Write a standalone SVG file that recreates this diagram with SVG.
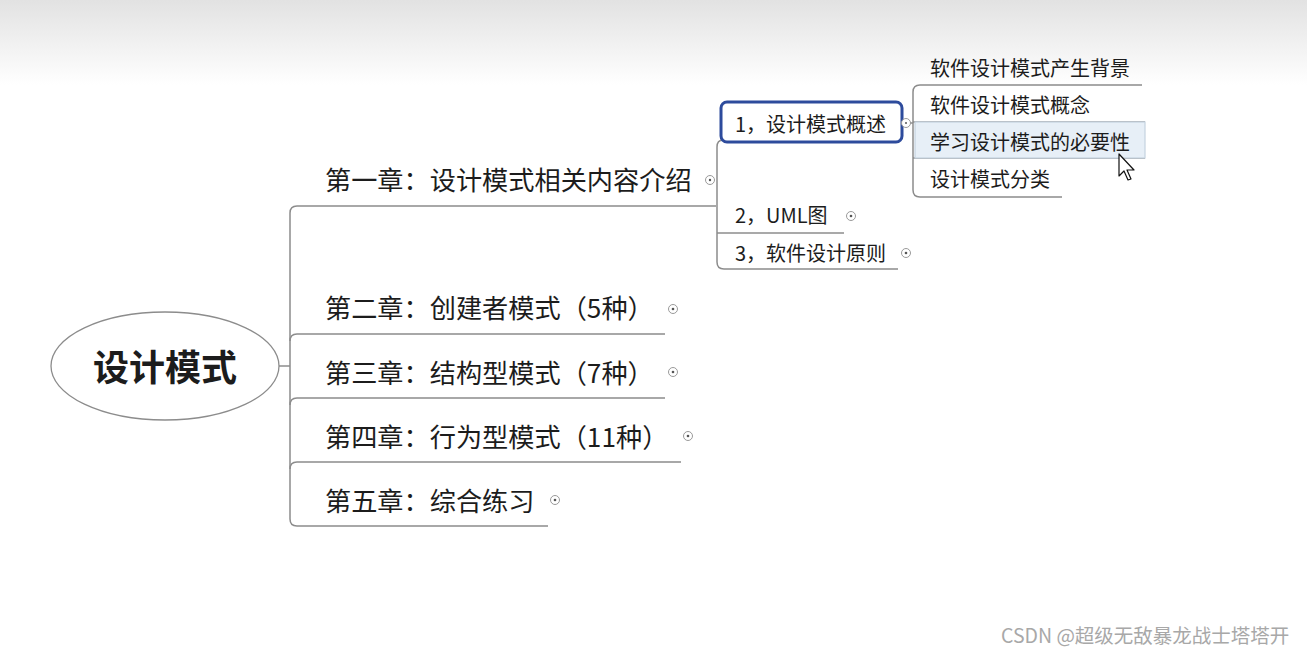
<svg xmlns="http://www.w3.org/2000/svg" width="1307" height="655" viewBox="0 0 1307 655">
<defs>
<linearGradient id="topfade" x1="0" y1="0" x2="0" y2="1">
<stop offset="0" stop-color="#e2e2e2"/>
<stop offset="1" stop-color="#ffffff"/>
</linearGradient>
<style>
.t{font-family:"Noto Sans CJK SC","Microsoft YaHei",sans-serif;fill:#1c1c1c}
.ch{font-size:26.2px}
.sub{font-size:20px}
.root{font-size:36px;font-weight:bold}
.ln{fill:none;stroke:#8c8c8c;stroke-width:1.5}
.ic{fill:#fff;stroke:#9a9a9a;stroke-width:1}
.dot{fill:#555}
.wm{font-family:"Noto Sans CJK SC",sans-serif;font-size:19.5px;fill:#a8a8a8}
</style>
</defs>
<rect x="0" y="0" width="1307" height="655" fill="#ffffff"/>
<rect x="0" y="0" width="1307" height="85" fill="url(#topfade)"/>

<g id="connectors">
<line class="ln" x1="279" y1="366" x2="290" y2="366"/>
<path class="ln" d="M716,206 H297 Q290,206 290,213 V519 Q290,526 297,526 H548"/>
<path class="ln" d="M665,334 H297 Q290,334 290,341"/>
<path class="ln" d="M665,398 H297 Q290,398 290,405"/>
<path class="ln" d="M681,462 H297 Q290,462 290,469"/>
<path class="ln" d="M723,140 Q717,140 717,147 V262 Q717,269 724,269 H898"/>
<line class="ln" x1="717" y1="233" x2="844" y2="233"/>
<line class="ln" x1="910" y1="123" x2="913" y2="123"/>
<path class="ln" d="M1142,85 H920 Q913,85 913,92 V190 Q913,197 920,197 H1062"/>
<line class="ln" x1="913" y1="122" x2="1145" y2="122"/>
<line class="ln" x1="913" y1="158" x2="1145" y2="158"/>
</g>

<g id="root">
<ellipse cx="165" cy="366" rx="114" ry="54" fill="#fff" stroke="#8c8c8c" stroke-width="1.3"/>
<text class="t root" x="165" y="381" text-anchor="middle">设计模式</text>
</g>

<g id="ch1">
<text class="t ch" x="325" y="190">第一章：设计模式相关内容介绍</text>
<circle class="ic" cx="710" cy="180" r="4.5"/><circle class="dot" cx="710" cy="180" r="1.2"/>
</g>
<g id="ch2">
<text class="t ch" x="325" y="318">第二章：创建者模式（5种）</text>
<circle class="ic" cx="673" cy="309" r="4.5"/><circle class="dot" cx="673" cy="309" r="1.3"/>
</g>
<g id="ch3">
<text class="t ch" x="325" y="383">第三章：结构型模式（7种）</text>
<circle class="ic" cx="673" cy="372" r="4.5"/><circle class="dot" cx="673" cy="372" r="1.3"/>
</g>
<g id="ch4">
<text class="t ch" x="325" y="447">第四章：行为型模式（11种）</text>
<circle class="ic" cx="688" cy="436" r="4.5"/><circle class="dot" cx="688" cy="436" r="1.3"/>
</g>
<g id="ch5">
<text class="t ch" x="325" y="511">第五章：综合练习</text>
<circle class="ic" cx="555" cy="500" r="4.5"/><circle class="dot" cx="555" cy="500" r="1.3"/>
</g>

<g id="s1">
<rect x="721" y="102" width="181" height="40" rx="6" fill="#fff" stroke="#2d4b9c" stroke-width="3"/>
<text class="t sub" x="735" y="132">1，设计模式概述</text>
<circle class="ic" cx="906" cy="123" r="4.5"/><circle class="dot" cx="906" cy="123" r="1"/>
</g>
<g id="s2">
<text class="t sub" x="735" y="223">2，UML图</text>
<circle class="ic" cx="851" cy="216" r="4.5"/><circle class="dot" cx="851" cy="216" r="1.3"/>
</g>
<g id="s3">
<text class="t sub" x="735" y="261">3，软件设计原则</text>
<circle class="ic" cx="906" cy="253" r="4.5"/><circle class="dot" cx="906" cy="253" r="1.3"/>
</g>

<g id="g1">
<text class="t sub" x="930" y="76">软件设计模式产生背景</text>
</g>
<g id="g2">
<text class="t sub" x="930" y="113">软件设计模式概念</text>
</g>
<g id="g3">
<rect x="915" y="122" width="230" height="36" fill="#e7eff7" stroke="#c5d3e0" stroke-width="1.2"/>
<text class="t sub" x="930" y="150">学习设计模式的必要性</text>
</g>
<g id="g4">
<text class="t sub" x="930" y="187">设计模式分类</text>
</g>

<path d="M1119,154 V176 L1124,171 L1128,180 L1131,179 L1127,170 L1134,170 Z" fill="#fff" stroke="#111" stroke-width="1.2" stroke-linejoin="round"/>

<text class="wm" x="1001" y="643">CSDN @超级无敌暴龙战士塔塔开</text>
</svg>
